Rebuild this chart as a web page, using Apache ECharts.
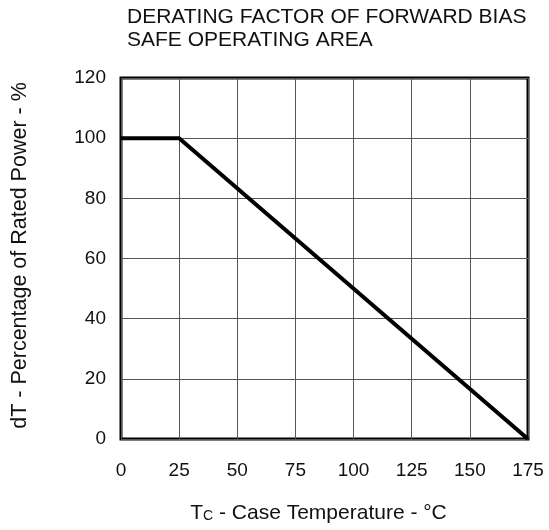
<!DOCTYPE html>
<html><head><meta charset="utf-8">
<script src="https://cdn.jsdelivr.net/npm/echarts@6/dist/echarts.min.js"></script>
<style>html,body{margin:0;padding:0;background:#fff}#c{width:549px;height:530px}</style>
</head><body><div id="c"></div>
<script>
const temperature = [0, 25, 175];
const ratedPower = [100, 100, 0];
const xTicks = [0, 25, 50, 75, 100, 125, 150, 175];
const yTicks = [0, 20, 40, 60, 80, 100, 120];

const chart = echarts.init(document.getElementById('c'), null, {renderer: 'canvas'});
const font = '"Liberation Sans", Arial, sans-serif';
chart.setOption({
  animation: false,
  title: {
    text: 'DERATING FACTOR OF FORWARD BIAS\nSAFE OPERATING AREA',
    left: 122, top: 1,
    textStyle: {fontFamily: font, fontWeight: 'normal', fontSize: 21, color: '#111', lineHeight: 22.5}
  },
  grid: {left: 121, right: 21, top: 78, bottom: 91, show: true, borderColor: '#000', borderWidth: 3, backgroundColor: 'transparent'},
  xAxis: {
    type: 'value', min: 0, max: 175, interval: 25,
    axisLine: {show: false}, axisTick: {show: false},
    splitLine: {show: true, lineStyle: {color: '#555', width: 1}},
    axisLabel: {fontFamily: font, fontSize: 19, color: '#111', margin: 22},
    name: '{a|T}{b|C}{a| - Case Temperature - °C}',
    nameLocation: 'middle', nameGap: 64,
    nameTextStyle: {padding: [0, 12, 0, 0], rich: {a: {fontFamily: font, fontSize: 21, color: '#111'}, b: {fontFamily: font, fontSize: 14, color: '#111', padding: [6, 0, 0, 0]}}}
  },
  yAxis: {
    type: 'value', min: 0, max: 120, interval: 20,
    axisLine: {show: false}, axisTick: {show: false},
    splitLine: {show: true, lineStyle: {color: '#555', width: 1}},
    axisLabel: {fontFamily: font, fontSize: 19, color: '#111', margin: 15},
    name: 'dT - Percentage of Rated Power - %',
    nameLocation: 'middle', nameGap: 90, nameRotate: 90,
    nameTextStyle: {fontFamily: font, fontSize: 21.5, color: '#111', padding: [0, 0, 0, 6]}
  },
  series: [{
    type: 'line', data: temperature.map((t, i) => [t, ratedPower[i]]),
    symbol: 'none', lineStyle: {color: '#000', width: 4}, z: 5
  }]
});
</script></body></html>
